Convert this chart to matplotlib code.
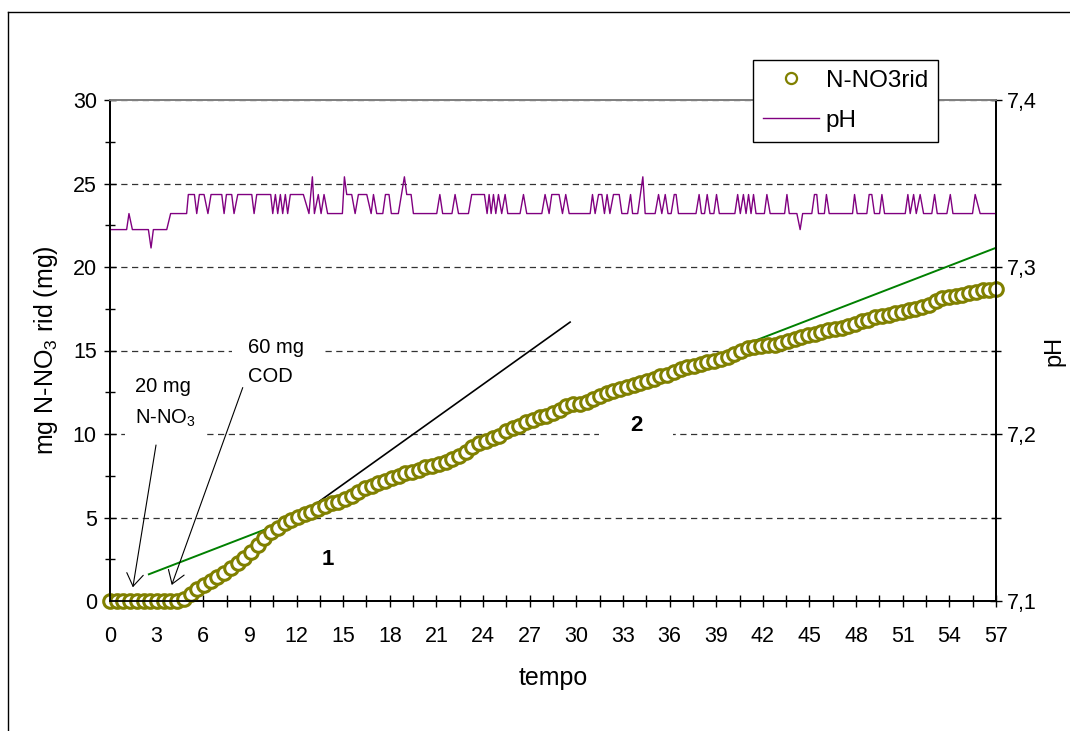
import matplotlib
matplotlib.use("Agg")
import matplotlib.pyplot as plt
from matplotlib.lines import Line2D
from matplotlib.ticker import MultipleLocator, FuncFormatter

plt.rcParams['font.family'] = ['Liberation Sans', 'DejaVu Sans']
plt.rcParams['mathtext.fontset'] = 'custom'
plt.rcParams['mathtext.rm'] = 'Liberation Sans'
plt.rcParams['mathtext.it'] = 'Liberation Sans:italic'

# N-NO3 ridotto (mg), one reading every 57/132 time units
dt = 57 / 132
nno3 = [0, 0, 0, 0, 0, 0, 0, 0, 0, 0, 0, 0.1, 0.4, 0.7, 0.98, 1.2, 1.45, 1.7, 1.95, 2.25,
        2.6, 2.95, 3.35, 3.75, 4.15, 4.4, 4.65, 4.85, 5.05, 5.2, 5.35, 5.5, 5.7, 5.85, 5.95,
        6.1, 6.3, 6.5, 6.75, 6.9, 7.05, 7.2, 7.35, 7.5, 7.65, 7.75, 7.85, 8.0, 8.1, 8.2,
        8.3, 8.5, 8.7, 8.95, 9.2, 9.45, 9.6, 9.75, 9.9, 10.15, 10.35, 10.5, 10.7, 10.85, 11.0,
        11.1, 11.25, 11.45, 11.7, 11.8, 11.8, 11.9, 12.1, 12.3, 12.45, 12.55, 12.7, 12.8, 12.95,
        13.05, 13.15, 13.3, 13.45, 13.55, 13.7, 13.9, 14.0, 14.1, 14.2, 14.3, 14.4, 14.5, 14.6,
        14.8, 15.0, 15.15, 15.2, 15.25, 15.3, 15.35, 15.45, 15.55, 15.7, 15.8, 15.9, 16.0, 16.1,
        16.2, 16.3, 16.35, 16.45, 16.6, 16.75, 16.85, 17.0, 17.05, 17.15, 17.25, 17.3, 17.4,
        17.5, 17.6, 17.75, 17.95, 18.15, 18.2, 18.25, 18.35, 18.45, 18.5, 18.6, 18.65, 18.7]
tempo = [i * dt for i in range(len(nno3))]

# pH record: levels and vertices (time, level index)
ph_levels = [7.3114, 7.3224, 7.332, 7.3434, 7.354]
ph_t = [0.00, 1.07, 1.22, 1.44, 2.47, 2.64, 2.79, 3.65, 3.90, 4.93, 5.04, 5.43, 5.58, 5.75,
        6.05, 6.30, 6.50, 7.19, 7.34, 7.49, 7.83, 7.98, 8.22, 9.12, 9.27, 9.44, 10.34, 10.47,
        10.64, 10.79, 10.96, 11.11, 11.28, 11.43, 11.60, 12.44, 12.80, 13.02, 13.15, 13.40,
        13.58, 13.77, 14.00,
        14.95, 15.08, 15.23, 15.55, 15.77, 15.98, 16.52, 16.80, 16.95, 17.16, 17.55, 17.72,
        17.95, 18.10, 18.55, 18.94, 19.09, 19.37, 19.52, 21.02, 21.22, 21.40, 22.00, 22.20,
        22.42, 23.06, 23.27, 24.09, 24.26, 24.39, 24.52, 24.67, 24.82, 24.99, 25.20, 25.42,
        25.59, 26.38, 26.60, 26.81, 27.78, 27.99, 28.25, 28.42, 28.89, 29.11, 29.32, 29.54,
        30.89,
        31.04, 31.21, 31.43, 31.64, 31.81, 31.98, 32.16, 32.39, 32.76, 32.93, 33.30, 33.49,
        33.62, 33.95, 34.28, 34.43, 35.07, 35.29, 35.50, 35.72, 35.90, 36.10, 36.30, 36.42,
        36.57, 37.70, 37.90, 38.05, 38.25, 38.42, 38.60, 38.85, 39.02, 39.20, 40.20, 40.38,
        40.55, 40.75, 40.92, 41.08, 41.24, 41.40, 41.56, 42.10, 42.26, 42.47, 43.40, 43.55,
        43.70, 44.19, 44.40, 44.56,
        45.15, 45.32, 45.47, 45.58, 45.96, 46.09, 46.27, 47.77, 47.90, 48.07, 48.69, 48.84,
        49.01, 49.18, 49.51, 49.66, 49.83, 51.16, 51.33, 51.48, 51.70, 51.87, 52.12, 52.34,
        52.87, 53.05, 53.22, 53.84, 54.06, 54.23, 55.49, 55.66, 55.98, 57.00]
ph_lvl = [1, 1, 2, 1, 1, 0, 1, 1, 2, 2, 3, 3, 2, 3,
          3, 2, 3, 3, 2, 3, 3, 2, 3, 3, 2, 3, 3, 2,
          3, 2, 3, 2, 3, 2, 3, 3, 2, 4, 2, 3,
          2, 3, 2,
          2, 4, 3, 3, 2, 3, 3, 2, 3, 2, 2, 3,
          3, 2, 2, 4, 3, 3, 2, 2, 3, 2, 2, 3,
          2, 2, 3, 3, 2, 3, 2, 3, 2, 3, 2, 3,
          2, 2, 3, 2, 2, 3, 2, 3, 3, 2, 3, 2,
          2,
          3, 2, 3, 3, 2, 3, 2, 3, 3, 2, 2, 3,
          2, 2, 4, 2, 2, 3, 2, 3, 2, 2, 3, 3,
          2, 2, 3, 2, 2, 3, 2, 2, 3, 2, 2, 3,
          2, 3, 2, 3, 2, 3, 2, 2, 3, 2, 2, 3,
          2, 2, 1, 2,
          2, 3, 3, 2, 2, 3, 2, 2, 3, 2, 2, 3,
          3, 2, 2, 3, 2, 2, 3, 2, 3, 2, 3, 2,
          2, 3, 2, 2, 3, 2, 2, 3, 2, 2]
ph = [ph_levels[k] for k in ph_lvl]

# trend lines (phase 1 black, phase 2 green)
trend1_t = [9.5, 29.6]
trend1_y = [3.33, 16.7]
trend2_t = [2.5, 57.0]
trend2_y = [1.6, 21.15]

W, H = 1070, 731
fig = plt.figure(figsize=(W / 100, H / 100), dpi=100)
ax = fig.add_axes([110 / W, 1 - 601 / H, 886 / W, 501 / H])
ax2 = ax.twinx()

fs_tick = 15.5
ax.set_xlim(0, 57)
ax.set_ylim(0, 30)
ax2.set_ylim(7.1, 7.4)
ax.set_axisbelow(True)

ax.plot(trend1_t, trend1_y, color='black', lw=1.2, zorder=2)
ax.plot(trend2_t, trend2_y, color='#008000', lw=1.4, zorder=2)
ax.plot(tempo, nno3, ls='none', marker='o', ms=9.8, mew=2.2, mec='#808000', mfc='white',
        zorder=3, clip_on=False)
ax2.plot(ph_t, ph, color='#800080', lw=1.0)

ax.xaxis.set_major_locator(MultipleLocator(3))
ax.xaxis.set_minor_locator(MultipleLocator(1.5))
ax.yaxis.set_major_locator(MultipleLocator(5))
ax.yaxis.set_minor_locator(MultipleLocator(2.5))
ax2.yaxis.set_major_locator(MultipleLocator(0.1))
ax2.yaxis.set_minor_locator(MultipleLocator(0.05))
ax2.yaxis.set_major_formatter(FuncFormatter(lambda v, p: f"{v:.1f}".replace('.', ',')))

ax.tick_params(axis='both', which='both', direction='inout', width=1.0, colors='black',
               labelsize=fs_tick)
ax.tick_params(axis='y', which='major', length=9, pad=5)
ax.tick_params(axis='y', which='minor', length=7)
ax.tick_params(axis='x', which='both', length=8, pad=14)
ax2.tick_params(axis='y', which='both', direction='inout', width=1.0, labelsize=fs_tick)
ax2.tick_params(axis='y', which='major', length=9, pad=3)
ax2.tick_params(axis='y', which='minor', length=7)

ax.yaxis.grid(True, which='major', color='#333333', lw=0.9, ls=(0, (5, 3.6)))

for a in (ax, ax2):
    for s in ('left', 'bottom', 'right'):
        a.spines[s].set_color('black')
        a.spines[s].set_linewidth(1.3)
    a.spines['top'].set_color('#808080')
    a.spines['top'].set_linewidth(1.3)

ax.set_xlabel('tempo', fontsize=18, labelpad=14)
ax.set_ylabel('mg N-NO$_3$ rid (mg)', fontsize=18, labelpad=9)
ax2.set_ylabel('pH', fontsize=17, labelpad=5)

ax.text(1.6, 13.4, '20 mg\nN-NO$_3$', fontsize=14.5, va='top', ha='left',
        linespacing=1.7, bbox=dict(facecolor='white', edgecolor='none', pad=7), zorder=1)
ax.text(8.9, 15.75, '60 mg\nCOD', fontsize=14.5, va='top', ha='left',
        linespacing=1.7, bbox=dict(facecolor='white', edgecolor='none', pad=12), zorder=1)
ax.text(14.0, 2.5, '1', fontsize=16, fontweight='bold', ha='center', va='center', zorder=1)
ax.text(33.85, 10.5, '2', fontsize=16, fontweight='bold', ha='center', va='center',
        bbox=dict(facecolor='white', edgecolor='none', pad=22), zorder=1)

arrow = dict(arrowstyle='->,head_length=0.9,head_width=0.6', color='black', lw=0.8,
             shrinkA=0, shrinkB=0)
ax.annotate('', xy=(1.47, 0.82), xytext=(2.96, 9.34), arrowprops=arrow, zorder=4)
ax.annotate('', xy=(3.97, 0.96), xytext=(8.54, 12.78), arrowprops=arrow, zorder=4)

handles = [Line2D([], [], ls='none', marker='o', ms=8, mew=1.6, mec='#808000', mfc='white'),
           Line2D([], [], color='#800080', lw=1.0)]
fig.legend(handles, ['N-NO3rid', 'pH'], loc='upper left', bbox_to_anchor=(753 / W, 1 - 60 / H),
           fontsize=17.5, frameon=True, fancybox=False, framealpha=1, edgecolor='black',
           handlelength=2.3, handletextpad=0.3, labelspacing=0.75, borderpad=0.4,
           borderaxespad=0)

# outer chart border
fig.add_artist(Line2D([8 / W, 8 / W], [0, 1 - 12 / H], color='black', lw=1.0))
fig.add_artist(Line2D([8 / W, 1], [1 - 12 / H, 1 - 12 / H], color='black', lw=1.0))

fig.savefig('out.png', dpi=100)
